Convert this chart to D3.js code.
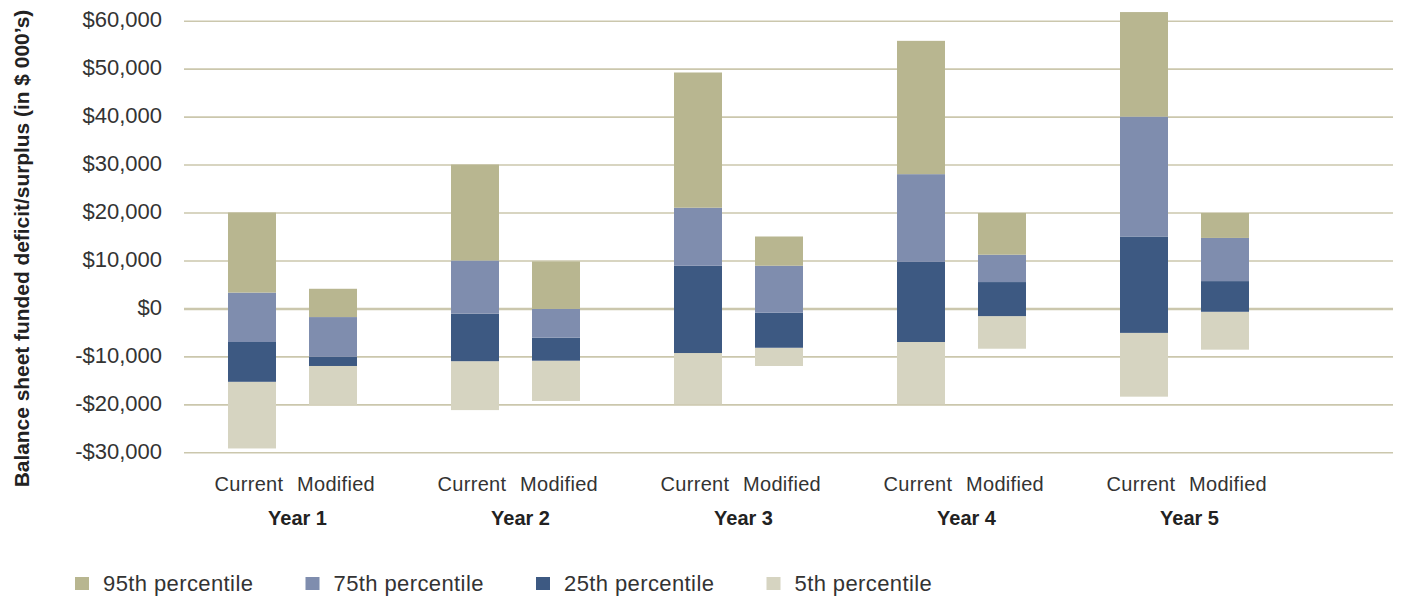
<!DOCTYPE html>
<html>
<head>
<meta charset="utf-8">
<script src="https://cdn.jsdelivr.net/npm/d3@7"></script>
<style>
  html, body { margin: 0; padding: 0; background: #fff; }
  svg { display: block; font-family: "Liberation Sans", Arial, sans-serif; }
</style>
</head>
<body>
<svg id="chart" width="1402" height="596"></svg>
<script>
// ---- Data ----
const years = ["Year 1", "Year 2", "Year 3", "Year 4", "Year 5"];
const scenarios = ["Current", "Modified"];
// boundaries per bar, order: Y1 Current, Y1 Modified, Y2 Current, ...
const low   = [-29200, -20100, -21200, -19300, -20000, -12000, -20000, -8400, -18400, -8600];
const edge1 = [-15300, -12000, -11000, -10900,  -9300,  -8200,  -7000, -1600,  -5100,  -700];
const edge2 = [ -7000, -10100,  -1100,  -6100,   8900,   -900,   9700,  5500,  15000,  5700];
const edge3 = [  3300,  -1800,  10000,   -100,  21000,   8900,  28000, 11200,  40000, 14700];
const high  = [ 20000,   4100,  30000,   9800,  49200,  15000,  55800, 19900,  61800, 19900];
const seriesNames = ["95th percentile", "75th percentile", "25th percentile", "5th percentile"];
const seriesColors = ["#b8b690", "#7f8dae", "#3d5982", "#d6d4c1"];
const yTicks = [-30000, -20000, -10000, 0, 10000, 20000, 30000, 40000, 50000, 60000];

// ---- Layout ----
const svg = d3.select("#chart");
const plotLeft = 184, plotRight = 1393;
const y = d3.scaleLinear().domain([-30000, 60000]).range([452.3, 20.7]);
const xGroup = d3.scaleBand().domain(years).range([181, 1296]).paddingInner(0).paddingOuter(0);
const xInner = d3.scaleBand().domain(scenarios).range([47, 176]).paddingInner(33 / 81).paddingOuter(0);

const fmt = v => (v < 0 ? "-$" : "$") + d3.format(",")(Math.abs(v));

// gridlines + tick labels
const yAxis = d3.axisLeft(y).tickValues(yTicks).tickFormat(fmt)
  .tickSizeInner(-(plotRight - plotLeft)).tickSizeOuter(0).tickPadding(22);
const gAxis = svg.append("g").attr("transform", `translate(${plotLeft},0)`).call(yAxis);
gAxis.select(".domain").remove();
gAxis.selectAll(".tick line")
  .attr("stroke", "#cbc7ad")
  .attr("stroke-width", d => d === 0 ? 2.6 : 1.6);
gAxis.selectAll(".tick text")
  .attr("fill", "#333")
  .attr("font-size", "22px")
  .attr("dy", "0.26em")
  .attr("font-family", "'Liberation Sans', Arial, sans-serif");

// bars
const bars = [];
years.forEach((yr, gi) => {
  scenarios.forEach((sc, si) => {
    const i = gi * 2 + si;
    bars.push({ yr, sc, b: [low[i], edge1[i], edge2[i], edge3[i], high[i]] });
  });
});
// segment index k: 0 = 5th (light), 1 = 25th (dark), 2 = 75th (blue-grey), 3 = 95th (olive)
const segColor = [seriesColors[3], seriesColors[2], seriesColors[1], seriesColors[0]];
const gBars = svg.append("g");
bars.forEach(bar => {
  const x0 = xGroup(bar.yr) + xInner(bar.sc);
  for (let k = 0; k < 4; k++) {
    gBars.append("rect")
      .attr("x", x0)
      .attr("width", xInner.bandwidth())
      .attr("y", y(bar.b[k + 1]))
      .attr("height", y(bar.b[k]) - y(bar.b[k + 1]))
      .attr("fill", segColor[k]);
  }
});

// category labels
years.forEach(yr => {
  scenarios.forEach((sc, si) => {
    svg.append("text")
      .attr("x", xGroup(yr) + xInner(sc) + xInner.bandwidth() / 2 + (si === 0 ? -3 : 3))
      .attr("y", 491)
      .attr("text-anchor", "middle")
      .attr("font-size", "20px")
      .attr("letter-spacing", "0.3px")
      .attr("fill", "#333")
      .text(sc);
  });
  svg.append("text")
    .attr("x", xGroup(yr) + xGroup.bandwidth() / 2 + 5)
    .attr("y", 525)
    .attr("text-anchor", "middle")
    .attr("font-size", "20px")
    .attr("font-weight", "bold")
    .attr("fill", "#222")
    .text(yr);
});

// y axis title
svg.append("text")
  .attr("transform", "translate(28.5,248.5) rotate(-90)")
  .attr("text-anchor", "middle")
  .attr("font-size", "20.9px")
  .attr("font-weight", "bold")
  .attr("fill", "#222")
  .text("Balance sheet funded deficit/surplus (in $ 000\u2019s)");

// legend
const legend = svg.append("g");
seriesNames.forEach((name, i) => {
  const lx = 75 + i * 230.5;
  legend.append("rect").attr("x", lx).attr("y", 577).attr("width", 14).attr("height", 13)
    .attr("fill", seriesColors[i]);
  legend.append("text").attr("x", lx + 28).attr("y", 591)
    .attr("font-size", "22px").attr("letter-spacing", "0.4px")
    .attr("fill", "#333").text(name);
});
</script>
</body>
</html>
